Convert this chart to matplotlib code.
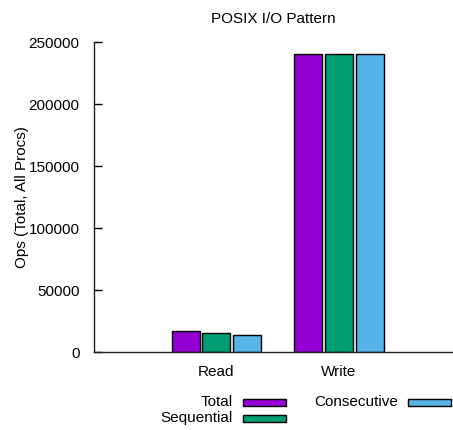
import matplotlib.pyplot as plt
from matplotlib.patches import Rectangle
import numpy as np

plt.rcParams['font.family'] = ['Liberation Sans', 'DejaVu Sans']

groups = ['Read', 'Write']
series = ['Total', 'Sequential', 'Consecutive']
colors = ['#9400d3', '#009e73', '#56b4e9']
total = [16900, 240000]
sequential = [15300, 240000]
consecutive = [13700, 240000]
values = [total, sequential, consecutive]

W, H = 453, 430
FS = 11
fig = plt.figure(figsize=(W / 100, H / 100), dpi=100)
ax = fig.add_axes([93.5 / W, 78 / H, (W - 93.5) / W, 310 / H])

x = np.arange(len(groups))
offsets = [-0.25, 0.0, 0.25]
for vals, off, c in zip(values, offsets, colors):
    ax.bar(x + off, vals, width=0.228, color=c, edgecolor='black', linewidth=1.0)

ax.set_xlim(-1.0, 1.93)
ax.set_ylim(0, 250000)
ax.set_yticks(range(0, 250001, 50000))
ax.set_xticks(x)
ax.set_xticklabels(groups, fontsize=FS)
ax.tick_params(axis='x', length=0, pad=9)
ax.tick_params(axis='y', direction='in', length=6, width=1, labelsize=FS, pad=10)
for s in ['top', 'right']:
    ax.spines[s].set_visible(False)
for s in ['left', 'bottom']:
    ax.spines[s].set_linewidth(1.0)
    ax.spines[s].set_color('#222222')

# title is centred over the plot area, not the figure
fig.text(273.3 / W, 1 - 19 / H, 'POSIX I/O Pattern', ha='center', va='center', fontsize=FS)
fig.text(22 / W, 1 - 197.5 / H, 'Ops (Total, All Procs)', ha='center', va='center',
         rotation=90, fontsize=FS)

# key below the plot, text right-justified before each sample
key = [(233, 402, 243), (233, 418, 243), (398, 402, 408)]
for (tx, ty, sx), name, c in zip(key, series, colors):
    fig.text(tx / W, 1 - ty / H, name, ha='right', va='center', fontsize=FS)
    fig.patches.append(Rectangle((sx / W, 1 - (ty + 3.5) / H), 43 / W, 7 / H,
                                 transform=fig.transFigure, facecolor=c,
                                 edgecolor='black', linewidth=1.0))

fig.savefig('out.png', dpi=100)
